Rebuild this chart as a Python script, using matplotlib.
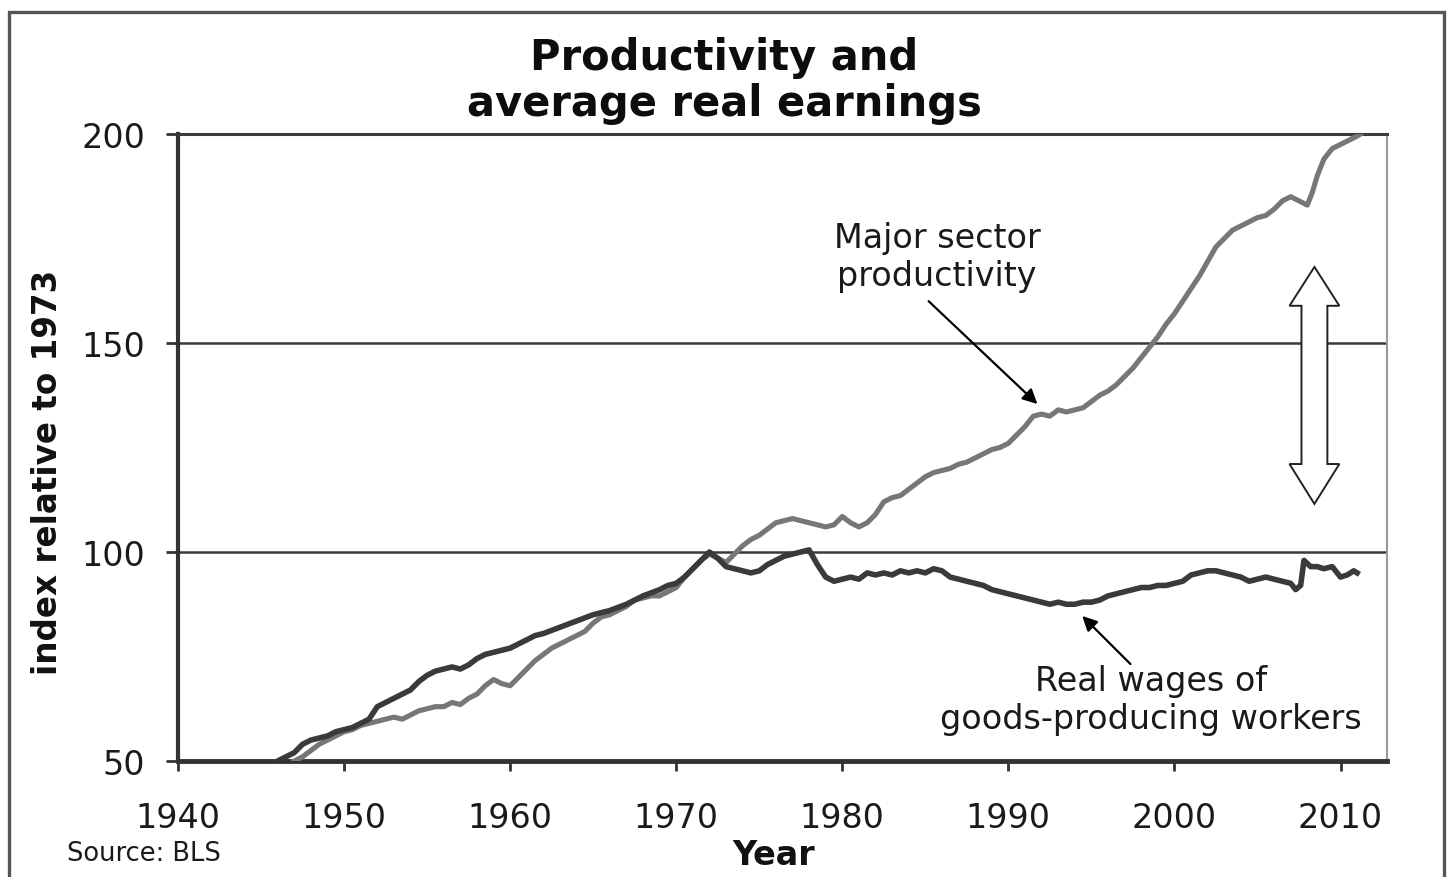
import matplotlib
matplotlib.use("Agg")
import matplotlib.pyplot as plt
from matplotlib.patches import Polygon, Rectangle

plt.rcParams['font.family'] = ['DejaVu Sans']

# ---- data ----
wage_years = [1946.0, 1946.5, 1947.0, 1947.5, 1948.0, 1948.5, 1949.0, 1949.5, 1950.0, 1950.5,
              1951.0, 1951.5, 1952.0, 1952.5, 1953.0, 1953.5, 1954.0, 1954.5, 1955.0, 1955.5,
              1956.0, 1956.5, 1957.0, 1957.5, 1958.0, 1958.5, 1959.0, 1959.5, 1960.0, 1960.5,
              1961.0, 1961.5, 1962.0, 1963.0, 1964.0, 1965.0, 1966.0, 1967.0, 1968.0, 1969.0,
              1969.5, 1970.0, 1970.5, 1971.0, 1971.5, 1972.0, 1972.5, 1973.0, 1973.5, 1974.0,
              1974.5, 1975.0, 1975.5, 1976.0, 1976.5, 1977.0, 1977.5, 1978.0, 1978.5, 1979.0,
              1979.5, 1980.0, 1980.5, 1981.0, 1981.5, 1982.0, 1982.5, 1983.0, 1983.5, 1984.0,
              1984.5, 1985.0, 1985.5, 1986.0, 1986.5, 1987.0, 1987.5, 1988.0, 1988.5, 1989.0,
              1989.5, 1990.0, 1990.5, 1991.0, 1991.5, 1992.0, 1992.5, 1993.0, 1993.5, 1994.0,
              1994.5, 1995.0, 1995.5, 1996.0, 1996.5, 1997.0, 1997.5, 1998.0, 1998.5, 1999.0,
              1999.5, 2000.0, 2000.5, 2001.0, 2001.5, 2002.0, 2002.5, 2003.0, 2003.5, 2004.0,
              2004.5, 2005.0, 2005.5, 2006.0, 2006.5, 2007.0, 2007.3, 2007.6, 2007.8, 2008.2,
              2008.6, 2009.0, 2009.5, 2010.0, 2010.4, 2010.8, 2011.0]
wage_index = [50.0, 51.0, 52.0, 54.0, 55.0, 55.5, 56.0, 57.0, 57.5, 58.0,
              59.0, 60.0, 63.0, 64.0, 65.0, 66.0, 67.0, 69.0, 70.5, 71.5,
              72.0, 72.5, 72.0, 73.0, 74.5, 75.5, 76.0, 76.5, 77.0, 78.0,
              79.0, 80.0, 80.5, 82.0, 83.5, 85.0, 86.0, 87.5, 89.5, 91.0,
              92.0, 92.5, 94.0, 96.0, 98.0, 100.0, 98.5, 96.5, 96.0, 95.5,
              95.0, 95.5, 97.0, 98.0, 99.0, 99.5, 100.0, 100.5, 97.0, 94.0,
              93.0, 93.5, 94.0, 93.5, 95.0, 94.5, 95.0, 94.5, 95.5, 95.0,
              95.5, 95.0, 96.0, 95.5, 94.0, 93.5, 93.0, 92.5, 92.0, 91.0,
              90.5, 90.0, 89.5, 89.0, 88.5, 88.0, 87.5, 88.0, 87.5, 87.5,
              88.0, 88.0, 88.5, 89.5, 90.0, 90.5, 91.0, 91.5, 91.5, 92.0,
              92.0, 92.5, 93.0, 94.5, 95.0, 95.5, 95.5, 95.0, 94.5, 94.0,
              93.0, 93.5, 94.0, 93.5, 93.0, 92.5, 91.0, 92.0, 98.0, 96.5,
              96.5, 96.0, 96.5, 94.0, 94.5, 95.5, 95.0]

prod_years = [1947.0, 1947.5, 1948.0, 1948.5, 1949.0, 1949.5, 1950.0, 1950.5, 1951.0, 1951.5,
              1952.0, 1952.5, 1953.0, 1953.5, 1954.0, 1954.5, 1955.0, 1955.5, 1956.0, 1956.5,
              1957.0, 1957.5, 1958.0, 1958.5, 1959.0, 1959.5, 1960.0, 1960.5, 1961.0, 1961.5,
              1962.0, 1962.5, 1963.0, 1963.5, 1964.0, 1964.5, 1965.0, 1965.5, 1966.0, 1966.5,
              1967.0, 1967.5, 1968.0, 1968.5, 1969.0, 1969.5, 1970.0, 1970.5, 1971.0, 1971.5,
              1972.0, 1972.5, 1973.0, 1973.5, 1974.0, 1974.5, 1975.0, 1975.5, 1976.0, 1976.5,
              1977.0, 1977.5, 1978.0, 1978.5, 1979.0, 1979.5, 1980.0, 1980.5, 1981.0, 1981.5,
              1982.0, 1982.5, 1983.0, 1983.5, 1984.0, 1984.5, 1985.0, 1985.5, 1986.0, 1986.5,
              1987.0, 1987.5, 1988.0, 1988.5, 1989.0, 1989.5, 1990.0, 1990.5, 1991.0, 1991.5,
              1992.0, 1992.5, 1993.0, 1993.5, 1994.0, 1994.5, 1995.0, 1995.5, 1996.0, 1996.5,
              1997.0, 1997.5, 1998.0, 1998.5, 1999.0, 1999.5, 2000.0, 2000.5, 2001.0, 2001.5,
              2002.0, 2002.5, 2003.0, 2003.5, 2004.0, 2004.5, 2005.0, 2005.5, 2006.0, 2006.5,
              2007.0, 2007.5, 2008.0, 2008.3, 2008.6, 2009.0, 2009.5, 2010.0, 2010.5, 2011.0,
              2011.2]
prod_index = [50.0, 51.0, 52.5, 54.0, 55.0, 56.0, 57.0, 57.5, 58.5, 59.0,
              59.5, 60.0, 60.5, 60.0, 61.0, 62.0, 62.5, 63.0, 63.0, 64.0,
              63.5, 65.0, 66.0, 68.0, 69.5, 68.5, 68.0, 70.0, 72.0, 74.0,
              75.5, 77.0, 78.0, 79.0, 80.0, 81.0, 83.0, 84.5, 85.0, 86.0,
              87.0, 88.5, 89.0, 89.5, 89.5, 90.5, 91.5, 94.0, 96.0, 98.0,
              99.5, 98.5, 97.5, 99.5, 101.5, 103.0, 104.0, 105.5, 107.0, 107.5,
              108.0, 107.5, 107.0, 106.5, 106.0, 106.5, 108.5, 107.0, 106.0, 107.0,
              109.0, 112.0, 113.0, 113.5, 115.0, 116.5, 118.0, 119.0, 119.5, 120.0,
              121.0, 121.5, 122.5, 123.5, 124.5, 125.0, 126.0, 128.0, 130.0, 132.5,
              133.0, 132.5, 134.0, 133.5, 134.0, 134.5, 136.0, 137.5, 138.5, 140.0,
              142.0, 144.0, 146.5, 149.0, 151.5, 154.5, 157.0, 160.0, 163.0, 166.0,
              169.5, 173.0, 175.0, 177.0, 178.0, 179.0, 180.0, 180.5, 182.0, 184.0,
              185.0, 184.0, 183.0, 186.0, 190.0, 194.0, 196.5, 197.5, 198.5, 199.5,
              200.0]

x_ticks = [1940, 1950, 1960, 1970, 1980, 1990, 2000, 2010]
y_ticks = [50, 100, 150, 200]

title = "Productivity and\naverage real earnings"
y_label = "index relative to 1973"
x_label = "Year"
source = "Source: BLS"
prod_label = "Major sector\nproductivity"
wage_label = "Real wages of\ngoods-producing workers"

# ---- figure ----
W, H = 1448, 878
fig = plt.figure(figsize=(W / 100, H / 100), dpi=100)
fig.patch.set_facecolor('white')
ax = fig.add_axes([178 / W, 1 - 762 / H, (1387 - 178) / W, (762 - 135) / H])

ax.plot(prod_years, prod_index, color='#777777', lw=3.7, solid_joinstyle='round', zorder=3)
ax.plot(wage_years, wage_index, color='#3a3a3a', lw=4.0, solid_joinstyle='round', zorder=3)

ax.set_xlim(1940, 2012.8)
ax.set_ylim(50, 200)
ax.set_xticks(x_ticks)
ax.set_yticks(y_ticks)
ax.tick_params(axis='x', direction='out', length=7.5, width=2.0, color='#333333',
               labelsize=24, pad=21, labelcolor='#1a1a1a')
ax.tick_params(axis='y', direction='out', length=8.5, width=2.0, color='#333333',
               labelsize=24, pad=15, labelcolor='#1a1a1a')

ax.grid(axis='y', color='#3a3a3a', lw=1.8, zorder=1)
ax.grid(axis='x', visible=False)
ax.spines['left'].set_color('#333333')
ax.spines['left'].set_linewidth(3.0)
ax.spines['bottom'].set_color('#333333')
ax.spines['bottom'].set_linewidth(3.5)
ax.spines['top'].set_color('#3a3a3a')
ax.spines['top'].set_linewidth(2.2)
ax.spines['right'].set_color('#9a9a9a')
ax.spines['right'].set_linewidth(1.5)
for s in ax.spines.values():
    s.set_zorder(2)

# annotations
ax.text(1985.7, 170.6, prod_label, ha='center', va='center', fontsize=24,
        color='#1a1a1a', multialignment='center', linespacing=1.2)
ax.annotate('', xy=(1991.75, 135.4), xytext=(1985.2, 160.0),
            arrowprops=dict(arrowstyle='-|>', color='black', lw=1.6, mutation_scale=22,
                            shrinkA=0, shrinkB=0), zorder=5)
ax.text(1998.6, 64.8, wage_label, ha='center', va='center', fontsize=24,
        color='#1a1a1a', multialignment='center', linespacing=1.2)
ax.annotate('', xy=(1994.45, 84.7), xytext=(1997.35, 73.2),
            arrowprops=dict(arrowstyle='-|>', color='black', lw=1.6, mutation_scale=22,
                            shrinkA=0, shrinkB=0), zorder=5)

# hollow double-headed arrow marking the gap
cx, top_tip, top_base, bot_base, bot_tip = 2008.43, 168.2, 158.9, 121.05, 111.5
hw_head, hw_shaft = 1.5, 0.78
arrow_pts = [(cx, top_tip), (cx + hw_head, top_base), (cx + hw_shaft, top_base),
             (cx + hw_shaft, bot_base), (cx + hw_head, bot_base), (cx, bot_tip),
             (cx - hw_head, bot_base), (cx - hw_shaft, bot_base), (cx - hw_shaft, top_base),
             (cx - hw_head, top_base)]
ax.add_patch(Polygon(arrow_pts, closed=True, facecolor='white', edgecolor='#222222',
                     lw=1.4, zorder=6, joinstyle='miter'))

# titles / labels
fig.text(0.5, 1 - 37 / H, title, ha='center', va='top', fontsize=30,
         fontweight='bold', color='#0d0d0d', linespacing=1.12)
fig.text(48 / W, 1 - 472 / H, y_label, rotation=90, ha='center', va='center',
         fontsize=23.5, fontweight='bold', color='#111111')
fig.text(774 / W, 1 - 856 / H, x_label, ha='center', va='center', fontsize=24,
         fontweight='bold', color='#111111')
fig.text(67 / W, 1 - 861 / H, source, ha='left', va='baseline', fontsize=18.5,
         color='#1a1a1a')

# outer frame
fig.patches.append(Rectangle((9 / W, -0.02), (1444 - 9) / W, 1.02 - 13 / H,
                             transform=fig.transFigure, fill=False,
                             edgecolor='#555555', lw=2.4, zorder=10))

fig.savefig('out.png', dpi=100)
